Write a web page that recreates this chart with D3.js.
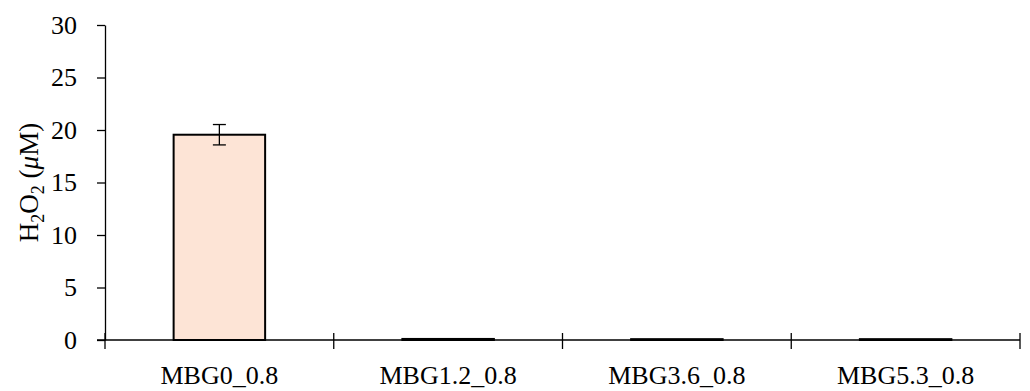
<!DOCTYPE html>
<html>
<head>
<meta charset="utf-8">
<script src="https://cdn.jsdelivr.net/npm/d3@7"></script>
<style>
  body { margin: 0; background: #fff; }
  text { font-family: "Liberation Serif", "Times New Roman", serif; fill: #000; }
</style>
</head>
<body>
<svg></svg>
<script>
// data
const categories = ['MBG0_0.8', 'MBG1.2_0.8', 'MBG3.6_0.8', 'MBG5.3_0.8'];
const values = [19.55, 0.1, 0.08, 0.08];
const errors = [0.97, 0, 0, 0];
const yTicks = [0, 5, 10, 15, 20, 25, 30];

const size = {w: 1030, h: 391};
// plot area edges in pixels
const plot = {l: 105, r: 1020, t: 25, b: 340};
const fontSize = 26;

const svg = d3.select('svg')
    .attr('width', size.w)
    .attr('height', size.h);

// scales
const x = d3.scaleBand()
    .domain(categories)
    .range([plot.l, plot.r])
    .paddingInner(0.6)
    .paddingOuter(0.3);

const y = d3.scaleLinear()
    .domain([0, 30])
    .range([plot.b, plot.t]);

// bars
svg.append('g')
    .selectAll('rect')
    .data(categories)
    .join('rect')
    .attr('x', d => x(d))
    .attr('y', (d, i) => y(values[i]))
    .attr('width', x.bandwidth())
    .attr('height', (d, i) => y(0) - y(values[i]))
    .attr('fill', '#fde4d6')
    .attr('stroke', '#000')
    .attr('stroke-width', 2);

// error bars (only where there is an error)
const errG = svg.append('g')
    .attr('stroke', '#000')
    .attr('stroke-width', 1.3);
categories.forEach((c, i) => {
    if (!errors[i]) return;
    const cx = x(c) + x.bandwidth() / 2;
    const top = y(values[i] + errors[i]);
    const bot = y(values[i] - errors[i]);
    errG.append('line').attr('x1', cx).attr('x2', cx).attr('y1', top).attr('y2', bot);
    errG.append('line').attr('x1', cx - 6.5).attr('x2', cx + 6.5).attr('y1', top).attr('y2', top);
    errG.append('line').attr('x1', cx - 6.5).attr('x2', cx + 6.5).attr('y1', bot).attr('y2', bot);
});

// y axis
const yAxis = svg.append('g')
    .attr('transform', 'translate(' + plot.l + ',0)')
    .call(d3.axisLeft(y).tickValues(yTicks).tickSize(8).tickPadding(20).tickSizeOuter(0));
yAxis.selectAll('text').style('font-size', fontSize + 'px');
yAxis.selectAll('line, path').attr('stroke', '#000').attr('stroke-width', 1.3);
yAxis.attr('font-family', null);

// x axis: labels under band centres, cross ticks on band boundaries
const xAxis = svg.append('g')
    .attr('transform', 'translate(0,' + plot.b + ')')
    .call(d3.axisBottom(x).tickSize(0).tickPadding(26).tickSizeOuter(0));
xAxis.select('.domain').remove();
xAxis.selectAll('text').style('font-size', fontSize + 'px');
xAxis.attr('font-family', null);

const bounds = categories.map(c => x(c) - x.step() * x.paddingOuter())
    .concat([plot.r]);
svg.append('g')
    .attr('stroke', '#000')
    .attr('stroke-width', 1.3)
    .call(g => g.append('line')
        .attr('x1', plot.l - 8).attr('x2', plot.r)
        .attr('y1', y(0)).attr('y2', y(0)))
    .selectAll('line.tick')
    .data(bounds)
    .join('line')
    .attr('class', 'tick')
    .attr('x1', d => d).attr('x2', d => d)
    .attr('y1', y(0) - 7).attr('y2', y(0) + 9);

// y axis title with subscripts
const title = svg.append('text')
    .attr('transform', 'translate(38,' + ((plot.t + plot.b) / 2) + ') rotate(-90)')
    .attr('text-anchor', 'middle')
    .style('font-size', '27px');
title.append('tspan').text('H');
title.append('tspan').text('2').attr('dy', 6).style('font-size', '18px');
title.append('tspan').text('O').attr('dy', -6);
title.append('tspan').text('2').attr('dy', 6).style('font-size', '18px');
title.append('tspan').text(' (').attr('dy', -6);
title.append('tspan').text('μ').style('font-style', 'italic');
title.append('tspan').text('M)');
</script>
</body>
</html>
